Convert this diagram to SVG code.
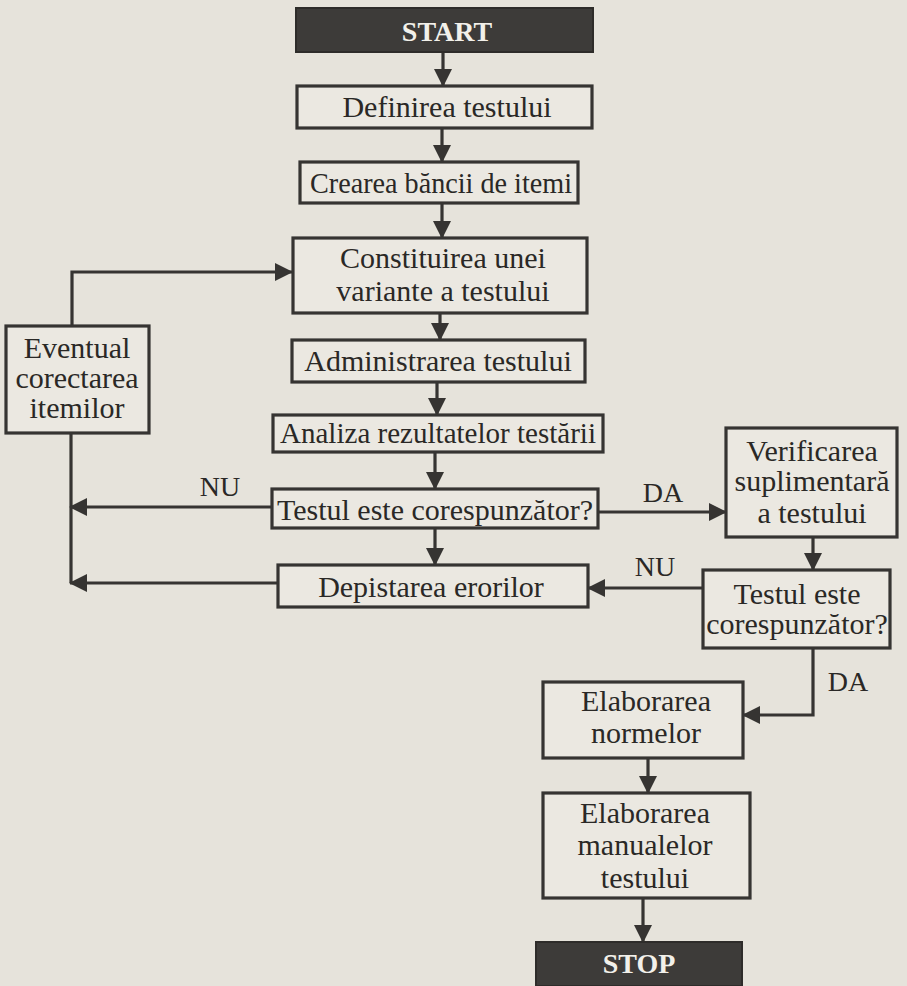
<svg xmlns="http://www.w3.org/2000/svg" width="907" height="986" viewBox="0 0 907 986">
<defs>
<marker id="ah" viewBox="0 0 18 18" refX="17" refY="9" markerWidth="18" markerHeight="18" markerUnits="userSpaceOnUse" orient="auto">
<path d="M0,0 L18,9 L0,18 z" fill="#363432"/>
</marker>
<style>
.box{fill:#ebe8e1;stroke:#363432;stroke-width:3.2}
.dark{fill:#3d3b39;stroke:#2e2c2a;stroke-width:2}
.t{font-family:"Liberation Serif","Times New Roman",serif;font-size:30px;fill:#2a2826;text-anchor:middle}
.tw{font-family:"Liberation Serif","Times New Roman",serif;font-size:28px;font-weight:bold;fill:#f2f0ea;text-anchor:middle}
.lbl{font-family:"Liberation Serif","Times New Roman",serif;font-size:28px;fill:#2a2826;text-anchor:middle}
.c{fill:none;stroke:#363432;stroke-width:3.2}
.a{marker-end:url(#ah)}
</style>
</defs>
<rect x="0" y="0" width="907" height="986" fill="#e6e3db"/>
<g id="connectors">
<path class="c a" d="M443,52 V86"/>
<path class="c a" d="M442,128 V162"/>
<path class="c a" d="M442,203 V238"/>
<path class="c a" d="M440,313 V340"/>
<path class="c a" d="M437,382 V415"/>
<path class="c a" d="M435,452 V489"/>
<path class="c a" d="M435,528 V565"/>
<path class="c a" d="M272,507 H70"/>
<path class="c a" d="M278,583 H70"/>
<path class="c" d="M71,583 V433"/>
<path class="c a" d="M72,326 V272 H292"/>
<path class="c a" d="M598,512 H726"/>
<path class="c a" d="M813,537 V570"/>
<path class="c a" d="M703,588 H588"/>
<path class="c a" d="M813,648 V715 H743"/>
<path class="c a" d="M648,758 V793"/>
<path class="c a" d="M643,898 V942"/>
<text class="lbl" x="220" y="496">NU</text>
<text class="lbl" x="663" y="502">DA</text>
<text class="lbl" x="655" y="576">NU</text>
<text class="lbl" x="848" y="691">DA</text>
</g>
<g id="start">
<rect class="dark" x="296" y="8" width="297" height="44"/>
<text class="tw" x="447" y="41">START</text>
</g>
<g id="definirea">
<rect class="box" x="297" y="86" width="295" height="42"/>
<text class="t" x="447" y="117">Definirea testului</text>
</g>
<g id="crearea">
<rect class="box" x="300" y="162" width="278" height="41"/>
<text class="t" x="441" y="193" textLength="262" lengthAdjust="spacingAndGlyphs">Crearea băncii de itemi</text>
</g>
<g id="constituirea">
<rect class="box" x="293" y="238" width="294" height="75"/>
<text class="t" x="443" y="268">Constituirea unei</text>
<text class="t" x="443" y="301">variante a testului</text>
</g>
<g id="administrarea">
<rect class="box" x="292" y="340" width="293" height="42"/>
<text class="t" x="438" y="371">Administrarea testului</text>
</g>
<g id="analiza">
<rect class="box" x="273" y="415" width="330" height="37"/>
<text class="t" x="438" y="443" textLength="316" lengthAdjust="spacingAndGlyphs">Analiza rezultatelor testării</text>
</g>
<g id="testul">
<rect class="box" x="272" y="489" width="326" height="39"/>
<text class="t" x="435" y="520">Testul este corespunzător?</text>
</g>
<g id="depistarea">
<rect class="box" x="278" y="565" width="310" height="42"/>
<text class="t" x="431" y="597">Depistarea erorilor</text>
</g>
<g id="eventual">
<rect class="box" x="6" y="326" width="143" height="107"/>
<text class="t" x="77" y="358">Eventual</text>
<text class="t" x="77" y="388">corectarea</text>
<text class="t" x="77" y="418">itemilor</text>
</g>
<g id="verificarea">
<rect class="box" x="726" y="428" width="171" height="109"/>
<text class="t" x="812" y="461">Verificarea</text>
<text class="t" x="812" y="491">suplimentară</text>
<text class="t" x="812" y="523">a testului</text>
</g>
<g id="testul2">
<rect class="box" x="703" y="570" width="187" height="78"/>
<text class="t" x="797" y="604">Testul este</text>
<text class="t" x="797" y="634">corespunzător?</text>
</g>
<g id="normelor">
<rect class="box" x="543" y="682" width="200" height="76"/>
<text class="t" x="646" y="711">Elaborarea</text>
<text class="t" x="646" y="743">normelor</text>
</g>
<g id="manualelor">
<rect class="box" x="543" y="793" width="207" height="105"/>
<text class="t" x="645" y="823">Elaborarea</text>
<text class="t" x="645" y="855">manualelor</text>
<text class="t" x="645" y="888">testului</text>
</g>
<g id="stop">
<rect class="dark" x="536" y="942" width="206" height="44"/>
<text class="tw" x="639" y="973">STOP</text>
</g>
</svg>
